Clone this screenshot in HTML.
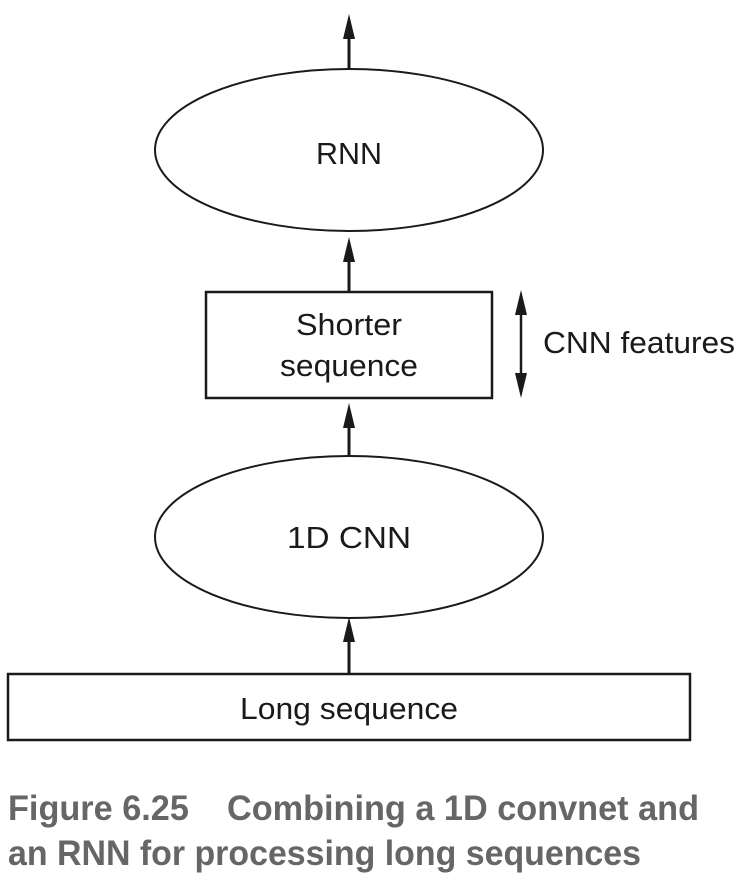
<!DOCTYPE html>
<html><head><meta charset="utf-8"><style>html,body{margin:0;padding:0;background:#fff}svg{display:block}</style></head>
<body>
<svg width="750" height="877" viewBox="0 0 750 877" xmlns="http://www.w3.org/2000/svg">
<g stroke="#1a1a1a" fill="none">
<line x1="349" y1="70" x2="349" y2="35" stroke-width="3"/>
<path d="M343,39 L349,14 L355,39 Z" fill="#1a1a1a" stroke="none"/>
<ellipse cx="349" cy="150" rx="194" ry="81" stroke-width="2"/>
<line x1="349" y1="292" x2="349" y2="258" stroke-width="3"/>
<path d="M343,262 L349,237 L355,262 Z" fill="#1a1a1a" stroke="none"/>
<rect x="206" y="292" width="286" height="106" stroke-width="2.5"/>
<line x1="521" y1="305" x2="521" y2="385" stroke-width="2.5"/>
<path d="M515,315 L521,290 L527,315 Z" fill="#1a1a1a" stroke="none"/>
<path d="M515,373 L521,398 L527,373 Z" fill="#1a1a1a" stroke="none"/>
<line x1="349" y1="455" x2="349" y2="425" stroke-width="3"/>
<path d="M343,428 L349,403 L355,428 Z" fill="#1a1a1a" stroke="none"/>
<ellipse cx="349" cy="537" rx="194" ry="81" stroke-width="2"/>
<line x1="349" y1="674" x2="349" y2="640" stroke-width="3"/>
<path d="M343,642 L349,617 L355,642 Z" fill="#1a1a1a" stroke="none"/>
<rect x="8" y="674" width="682" height="66" stroke-width="2.5"/>
</g>
<g font-family="'Liberation Sans',sans-serif" font-size="31" fill="#1a1a1a" text-anchor="middle">
<text x="349" y="164" textLength="66" lengthAdjust="spacingAndGlyphs">RNN</text>
<text x="349" y="335" textLength="106" lengthAdjust="spacingAndGlyphs">Shorter</text>
<text x="349" y="376" textLength="138" lengthAdjust="spacingAndGlyphs">sequence</text>
<text x="349" y="548" textLength="124" lengthAdjust="spacingAndGlyphs">1D CNN</text>
<text x="349" y="719" textLength="218" lengthAdjust="spacingAndGlyphs">Long sequence</text>
<text x="639" y="353" textLength="192" lengthAdjust="spacingAndGlyphs">CNN features</text>
</g>
<g font-family="'Liberation Sans',sans-serif" font-size="35" font-weight="bold" fill="#666">
<text x="8" y="820" textLength="691" lengthAdjust="spacingAndGlyphs" xml:space="preserve">Figure 6.25    Combining a 1D convnet and</text>
<text x="8" y="865" textLength="633" lengthAdjust="spacingAndGlyphs">an RNN for processing long sequences</text>
</g>
</svg>
</body></html>
